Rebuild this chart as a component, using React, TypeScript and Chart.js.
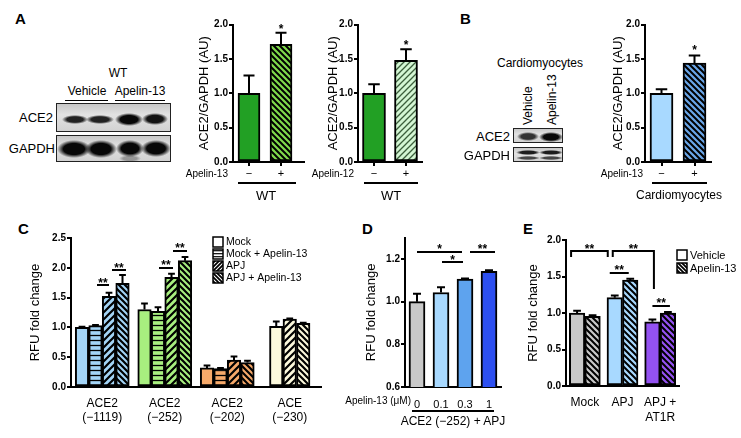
import React, { useEffect, useRef } from 'react';
import { Chart, registerables } from 'chart.js';

Chart.register(...registerables);

const FONT = '"Liberation Sans", Arial, Helvetica, sans-serif';

// ---------------- data ----------------
const aLabels = ['−', '+'];
const a1Values = [1.0, 1.71];
const a1Errors = [1.26, 1.88];
const a2Values = [1.0, 1.48];
const a2Errors = [1.13, 1.64];
const bValues = [1.0, 1.44];
const bErrors = [1.06, 1.55];

const cCategories = [['ACE2', '(−1119)'], ['ACE2', '(−252)'], ['ACE2', '(−202)'], ['ACE', '(−230)']];
const cSeries = ['Mock', 'Mock + Apelin-13', 'APJ', 'APJ + Apelin-13'];
const cMock = [1.0, 1.3, 0.32, 1.02];
const cMockErr = [1.01, 1.4, 0.36, 1.1];
const cMockApelin = [1.03, 1.27, 0.31, null];
const cMockApelinErr = [1.04, 1.34, 0.32, null];
const cApj = [1.52, 1.84, 0.45, 1.14];
const cApjErr = [1.58, 1.9, 0.51, 1.15];
const cApjApelin = [1.74, 2.12, 0.41, 1.07];
const cApjApelinErr = [1.88, 2.18, 0.44, 1.08];

const dLabels = ['0', '0.1', '0.3', '1'];
const dValues = [1.0, 1.043, 1.106, 1.142];
const dErrors = [1.037, 1.068, 1.109, 1.147];

const eCategories = [['Mock'], ['APJ'], ['APJ +', 'AT1R']];
const eSeries = ['Vehicle', 'Apelin-13'];
const eVehicle = [1.0, 1.21, 0.88];
const eVehicleErr = [1.03, 1.24, 0.91];
const eApelin = [0.955, 1.45, 1.0];
const eApelinErr = [0.97, 1.47, 1.015];

// ---------------- helpers ----------------
type Frame = { cx: number; cy: number; cw: number; ch: number; L: number; R: number; T: number; B: number; titleX: number };

function pattern(bg: string, kind: string, line = '#000', size = 6, lw = 2): any {
  if (kind === 'none') return bg;
  const c = document.createElement('canvas');
  c.width = size;
  c.height = size;
  const g = c.getContext('2d')!;
  g.fillStyle = bg;
  g.fillRect(0, 0, size, size);
  g.strokeStyle = line;
  g.lineWidth = lw;
  g.beginPath();
  if (kind === 'h') {
    g.moveTo(0, size / 2);
    g.lineTo(size, size / 2);
  } else if (kind === '/') {
    g.moveTo(-2, 2); g.lineTo(2, -2);
    g.moveTo(0, size); g.lineTo(size, 0);
    g.moveTo(size - 2, size + 2); g.lineTo(size + 2, size - 2);
  } else {
    g.moveTo(-2, size - 2); g.lineTo(2, size + 2);
    g.moveTo(0, 0); g.lineTo(size, size);
    g.moveTo(size - 2, -2); g.lineTo(size + 2, 2);
  }
  g.stroke();
  return g.createPattern(c, 'repeat');
}

function errPlugin(errs: (number | null)[][]) {
  return {
    id: 'errBars',
    afterDatasetsDraw(chart: any) {
      const ctx = chart.ctx;
      const y = chart.scales.y;
      errs.forEach((arr, i) => {
        const meta = chart.getDatasetMeta(i);
        const data = chart.data.datasets[i].data;
        meta.data.forEach((el: any, j: number) => {
          const e = arr[j];
          const v = data[j];
          if (e == null || v == null) return;
          const top = y.getPixelForValue(v);
          const ey = y.getPixelForValue(e);
          const w = el.width * 0.5;
          ctx.save();
          ctx.strokeStyle = '#000';
          ctx.lineWidth = 2;
          ctx.beginPath();
          ctx.moveTo(el.x, top);
          ctx.lineTo(el.x, ey);
          ctx.moveTo(el.x - w / 2, ey);
          ctx.lineTo(el.x + w / 2, ey);
          ctx.stroke();
          ctx.restore();
        });
      });
    },
  };
}

type Sig = { from: number[]; to: number[]; y: number; text: string; noLine?: boolean; legs?: number[] };

function sigPlugin(items: Sig[]) {
  return {
    id: 'sigMarks',
    afterDatasetsDraw(chart: any) {
      const ctx = chart.ctx;
      const y = chart.scales.y;
      const px = (r: number[]) => chart.getDatasetMeta(r[0]).data[r[1]].x + r[2];
      items.forEach((it) => {
        const x1 = px(it.from);
        const x2 = px(it.to);
        const yy = y.getPixelForValue(it.y);
        ctx.save();
        ctx.strokeStyle = '#000';
        ctx.lineWidth = 2;
        if (!it.noLine) {
          ctx.beginPath();
          if (it.legs) {
            ctx.moveTo(x1, y.getPixelForValue(it.legs[0]));
            ctx.lineTo(x1, yy);
            ctx.lineTo(x2, yy);
            ctx.lineTo(x2, y.getPixelForValue(it.legs[1]));
          } else {
            ctx.moveTo(x1, yy);
            ctx.lineTo(x2, yy);
          }
          ctx.stroke();
        }
        ctx.fillStyle = '#000';
        ctx.font = `bold 12px ${FONT}`;
        ctx.textAlign = 'center';
        ctx.textBaseline = 'alphabetic';
        ctx.fillText(it.text, (x1 + x2) / 2, yy + 1.5);
        ctx.restore();
      });
    },
  };
}

function legendPlugin(o: { x: number; y: number; gap: number; size: number; font: number; items: { label: string; fill: any }[] }) {
  return {
    id: 'boxLegend',
    afterDraw(chart: any) {
      const ctx = chart.ctx;
      ctx.save();
      ctx.font = `${o.font}px ${FONT}`;
      ctx.textBaseline = 'middle';
      ctx.textAlign = 'left';
      o.items.forEach((it, i) => {
        const yy = o.y + i * o.gap;
        ctx.fillStyle = it.fill;
        ctx.fillRect(o.x, yy - o.size / 2, o.size, o.size);
        ctx.strokeStyle = '#000';
        ctx.lineWidth = 1.5;
        ctx.strokeRect(o.x, yy - o.size / 2, o.size, o.size);
        ctx.fillStyle = '#000';
        ctx.fillText(it.label, o.x + o.size + 3, yy + 0.5);
      });
      ctx.restore();
    },
  };
}

function extendX(px: number) {
  return {
    id: 'extendX',
    afterDraw(chart: any) {
      if (!px) return;
      const ctx = chart.ctx;
      const a = chart.chartArea;
      const yb = chart.scales.x.top;
      ctx.save();
      ctx.strokeStyle = '#000';
      ctx.lineWidth = 2;
      ctx.beginPath();
      ctx.moveTo(a.right - 1, yb);
      ctx.lineTo(a.right + px, yb);
      ctx.stroke();
      ctx.restore();
    },
  };
}

function baseOptions(
  f: Frame,
  y: { min: number; max: number; step: number; title: string; keep?: number[] },
  x: { size: number; lh: number; pad: number; marks: boolean }
): any {
  return {
    responsive: false,
    animation: false,
    devicePixelRatio: 1,
    events: [],
    layout: { padding: { left: 0, top: f.T - f.cy, right: f.cx + f.cw - f.R, bottom: 0 } },
    plugins: { legend: { display: false }, tooltip: { enabled: false } },
    scales: {
      x: {
        type: 'category',
        offset: true,
        grid: { display: x.marks, drawOnChartArea: false, drawTicks: true, tickLength: 4, offset: false, color: '#000', lineWidth: 2 },
        border: { display: true, color: '#000', width: 2 },
        ticks: { color: '#000', font: { family: FONT, size: x.size, lineHeight: x.lh }, padding: x.pad, maxRotation: 0, autoSkip: false },
        afterFit: (s: any) => {
          s.height = f.cy + f.ch - f.B;
        },
      },
      y: {
        min: y.min,
        max: y.max,
        grid: { display: true, drawOnChartArea: false, drawTicks: true, tickLength: 4, color: '#000', lineWidth: 2 },
        border: { display: true, color: '#000', width: 2 },
        ticks: {
          stepSize: y.step,
          color: '#000',
          padding: 1,
          font: { family: FONT, size: 10, weight: 'bold' },
          callback: (v: any) => Number(v).toFixed(1),
        },
        afterBuildTicks: (s: any) => {
          if (y.keep) s.ticks = s.ticks.filter((t: any) => y.keep!.some((k) => Math.abs(k - t.value) < 1e-6));
        },
        title: {
          display: true,
          text: y.title,
          color: '#000',
          font: { family: FONT, size: 13 },
          padding: { top: f.titleX - f.cx - 7.8, bottom: 0 },
        },
        afterFit: (s: any) => {
          s.width = f.L - f.cx;
        },
      },
    },
  };
}

function ChartCanvas({ f, build }: { f: Frame; build: () => any }) {
  const ref = useRef<HTMLCanvasElement>(null);
  useEffect(() => {
    const chart = new Chart(ref.current!, build());
    return () => chart.destroy();
  }, []);
  return (
    <canvas
      ref={ref}
      width={f.cw}
      height={f.ch}
      style={{ position: 'absolute', left: f.cx, top: f.cy, width: f.cw, height: f.ch }}
    />
  );
}

function Txt({ x, y, s, size = 12, bold = false, align = 'center' }: any) {
  const tx = align === 'center' ? '-50%' : align === 'right' ? '-100%' : '0';
  return (
    <div
      style={{
        position: 'absolute',
        left: x,
        top: y,
        transform: `translate(${tx}, -50%)`,
        fontSize: size,
        fontWeight: bold ? 'bold' : 'normal',
        lineHeight: 1,
        whiteSpace: 'nowrap',
      }}
    >
      {s}
    </div>
  );
}

function VTxt({ x, y, s, size = 12 }: any) {
  return (
    <div
      style={{
        position: 'absolute',
        left: x,
        top: y,
        transformOrigin: '0 0',
        transform: 'rotate(-90deg) translateY(-50%)',
        fontSize: size,
        lineHeight: 1,
        whiteSpace: 'nowrap',
      }}
    >
      {s}
    </div>
  );
}

function HLine({ x1, x2, y, w = 1.2 }: any) {
  return <div style={{ position: 'absolute', left: x1, top: y - w / 2, width: x2 - x1, height: w, background: '#000' }} />;
}

function Blot({ x, y, w, h, bands }: { x: number; y: number; w: number; h: number; bands: number[][] }) {
  return (
    <div
      style={{
        position: 'absolute',
        left: x,
        top: y,
        width: w,
        height: h,
        border: '1.5px solid #222',
        boxSizing: 'border-box',
        background: 'linear-gradient(#c8c8c8, #e2e2e2 40%, #d2d2d2)',
        overflow: 'hidden',
      }}
    >
      {bands.map((b, i) => (
        <div
          key={i}
          style={{
            position: 'absolute',
            left: b[0] - x - b[2] / 2,
            top: b[1] - y - b[3] / 2,
            width: b[2],
            height: b[3],
            background: `radial-gradient(closest-side, rgba(8,8,8,${b[4]}) 0%, rgba(8,8,8,${b[4]}) 62%, rgba(8,8,8,0) 100%)`,
          }}
        />
      ))}
    </div>
  );
}

// ---------------- colours ----------------
const GREEN = '#22a024';
const GREEN2 = '#80da4c';
const MINT = '#d3f6d3';
const LBLUE = '#a8d9ff';
const BLUE2 = '#6aa6e8';
const C_COLORS = ['#a3d4f6', '#a8ef7f', '#f6a96a', '#fcf9dc'];
const D_COLORS = ['#c9c9c9', '#a8d9ff', '#5ea3ee', '#2c4ff0'];
const E_COLORS = ['#c9c9c9', '#a8d9ff', '#9452f2'];

// ---------------- frames ----------------
const fA1: Frame = { cx: 180, cy: 0, cw: 130, ch: 205, L: 233, R: 297, T: 24.5, B: 162, titleX: 204 };
const fA2: Frame = { cx: 310, cy: 0, cw: 122, ch: 205, L: 358, R: 422, T: 24.5, B: 162, titleX: 333 };
const fB: Frame = { cx: 595, cy: 0, cw: 130, ch: 205, L: 645, R: 711, T: 24.5, B: 162, titleX: 618 };
const fC: Frame = { cx: 20, cy: 228, cw: 310, ch: 200, L: 71, R: 321, T: 238, B: 387, titleX: 35 };
const fD: Frame = { cx: 350, cy: 228, cw: 160, ch: 200, L: 405, R: 501, T: 237.7, B: 387, titleX: 371 };
const fE: Frame = { cx: 515, cy: 228, cw: 222, ch: 200, L: 566, R: 679, T: 240, B: 386, titleX: 533 };

const aX = { size: 11, lh: 1.2, pad: 1, marks: true };

function buildA1() {
  const o = baseOptions(fA1, { min: 0, max: 2, step: 0.5, title: 'ACE2/GAPDH (AU)' }, aX);
  return {
    type: 'bar',
    data: {
      labels: aLabels,
      datasets: [{ data: a1Values, backgroundColor: [GREEN, pattern(GREEN2, '\\', '#000', 6, 2)], borderColor: '#000', borderWidth: 2, borderSkipped: false, barThickness: 22 }],
    },
    options: o,
    plugins: [errPlugin([a1Errors]), sigPlugin([{ from: [0, 1, 0], to: [0, 1, 0], y: 1.9, text: '*', noLine: true }]), extendX(8)],
  };
}

function buildA2() {
  const o = baseOptions(fA2, { min: 0, max: 2, step: 0.5, title: 'ACE2/GAPDH (AU)' }, aX);
  return {
    type: 'bar',
    data: {
      labels: aLabels,
      datasets: [{ data: a2Values, backgroundColor: [GREEN, pattern(MINT, '/', '#3b5e3b', 6, 1.3)], borderColor: '#000', borderWidth: 2, borderSkipped: false, barThickness: 23 }],
    },
    options: o,
    plugins: [errPlugin([a2Errors]), sigPlugin([{ from: [0, 1, 0], to: [0, 1, 0], y: 1.67, text: '*', noLine: true }]), extendX(0)],
  };
}

function buildB() {
  const o = baseOptions(fB, { min: 0, max: 2, step: 0.5, title: 'ACE2/GAPDH (AU)' }, aX);
  return {
    type: 'bar',
    data: {
      labels: aLabels,
      datasets: [{ data: bValues, backgroundColor: [LBLUE, pattern(BLUE2, '\\', '#000', 6, 2)], borderColor: '#000', borderWidth: 2, borderSkipped: false, barThickness: 23 }],
    },
    options: o,
    plugins: [errPlugin([bErrors]), sigPlugin([{ from: [0, 1, 0], to: [0, 1, 0], y: 1.59, text: '*', noLine: true }]), extendX(0)],
  };
}

function buildC() {
  const o = baseOptions(fC, { min: 0, max: 2.5, step: 0.5, title: 'RFU fold change' }, { size: 12, lh: 1.1, pad: 6.5, marks: false });
  const kinds = [['none', 0, 0], ['h', 5, 1.3], ['/', 7, 2.2], ['\\', 6, 2.2]] as any[];
  const series = [cMock, cMockApelin, cApj, cApjApelin];
  const datasets = series.map((vals, i) => ({
    label: cSeries[i],
    data: vals,
    backgroundColor: C_COLORS.map((col) => pattern(col, kinds[i][0], '#000', kinds[i][1], kinds[i][2])),
    borderColor: '#000',
    borderWidth: 2,
    borderSkipped: false,
    barThickness: 13.5,
    skipNull: true,
  }));
  return {
    type: 'bar',
    data: { labels: cCategories, datasets },
    options: o,
    plugins: [
      errPlugin([cMockErr, cMockApelinErr, cApjErr, cApjApelinErr]),
      sigPlugin([
        { from: [2, 0, -12], to: [2, 0, 0], y: 1.711, text: '**' },
        { from: [3, 0, -10.5], to: [3, 0, 3.5], y: 1.963, text: '**' },
        { from: [2, 1, -12.5], to: [2, 1, 1.5], y: 1.997, text: '**' },
        { from: [3, 1, -12], to: [3, 1, 2], y: 2.282, text: '**' },
      ]),
      legendPlugin({
        x: 193,
        y: 14,
        gap: 12,
        size: 10,
        font: 10.5,
        items: cSeries.map((s, i) => ({ label: s, fill: pattern('#fff', kinds[i][0], '#000', i === 1 ? 3.4 : 4, i === 1 ? 1.2 : 1.8) })),
      }),
    ],
  };
}

function buildD() {
  const o = baseOptions(fD, { min: 0.6, max: 1.3, step: 0.2, title: 'RFU fold change', keep: [0.6, 0.8, 1.0, 1.2] }, { size: 11, lh: 1.2, pad: 7.4, marks: false });
  return {
    type: 'bar',
    data: {
      labels: dLabels,
      datasets: [{ data: dValues, backgroundColor: D_COLORS, borderColor: '#000', borderWidth: 2, borderSkipped: false, barThickness: 16 }],
    },
    options: o,
    plugins: [
      errPlugin([dErrors]),
      sigPlugin([
        { from: [0, 0, 0], to: [0, 2, -3], y: 1.233, text: '*' },
        { from: [0, 1, 1], to: [0, 2, -2], y: 1.186, text: '*' },
        { from: [0, 2, 5], to: [0, 3, 6], y: 1.233, text: '**' },
      ]),
    ],
  };
}

function buildE() {
  const o = baseOptions(fE, { min: 0, max: 2, step: 0.5, title: 'RFU fold change' }, { size: 12, lh: 1.25, pad: 5.5, marks: false });
  const vehFill = E_COLORS;
  const apFill = E_COLORS.map((c) => pattern(c, '\\', '#000', 6, 2));
  return {
    type: 'bar',
    data: {
      labels: eCategories,
      datasets: [
        { label: eSeries[0], data: eVehicle, backgroundColor: vehFill, borderColor: '#000', borderWidth: 2, borderSkipped: false, barThickness: 15.5 },
        { label: eSeries[1], data: eApelin, backgroundColor: apFill, borderColor: '#000', borderWidth: 2, borderSkipped: false, barThickness: 15.5 },
      ],
    },
    options: o,
    plugins: [
      errPlugin([eVehicleErr, eApelinErr]),
      sigPlugin([
        { from: [0, 0, -6], to: [0, 1, -7], y: 1.849, text: '**', legs: [1.767, 1.767] },
        { from: [0, 1, -2], to: [0, 2, 1.5], y: 1.849, text: '**', legs: [1.767, 1.329] },
        { from: [0, 1, -5], to: [1, 1, -1.5], y: 1.548, text: '**' },
        { from: [0, 2, 0], to: [1, 2, 2], y: 1.096, text: '**' },
      ]),
      legendPlugin({
        x: 162,
        y: 27,
        gap: 13,
        size: 10,
        font: 11,
        items: eSeries.map((s, i) => ({ label: s, fill: i === 0 ? '#fff' : pattern('#fff', '\\', '#000', 4, 1.8) })),
      }),
    ],
  };
}

export default function App() {
  return (
    <div
      style={{
        position: 'absolute',
        left: 0,
        top: 0,
        width: 741,
        height: 438,
        background: '#fff',
        overflow: 'hidden',
        fontFamily: FONT,
        color: '#000',
      }}
    >
      {/* Panel letters */}
      <Txt x={15} y={18} s="A" size={15} bold align="left" />
      <Txt x={460} y={18} s="B" size={15} bold align="left" />
      <Txt x={18} y={228} s="C" size={15} bold align="left" />
      <Txt x={362} y={228} s="D" size={15} bold align="left" />
      <Txt x={523} y={228} s="E" size={15} bold align="left" />

      {/* Panel A blot */}
      <Txt x={118} y={73} s="WT" size={12} />
      <Txt x={87} y={91} s="Vehicle" size={12} />
      <Txt x={140} y={91} s="Apelin-13" size={12} />
      <HLine x1={65} x2={108} y={100.5} />
      <HLine x1={115} x2={165} y={100.5} />
      <Txt x={53} y={117} s="ACE2" size={13} align="right" />
      <Txt x={55} y={148} s="GAPDH" size={13} align="right" />
      <Blot
        x={56}
        y={103}
        w={115}
        h={29}
        bands={[
          [74, 118.5, 26, 9, 0.88],
          [98.5, 118.5, 28, 9, 0.88],
          [127.5, 118, 28, 13, 1],
          [154, 118, 26, 12, 0.95],
        ]}
      />
      <Blot
        x={56}
        y={135}
        w={115}
        h={27}
        bands={[
          [72.5, 147.5, 34, 18, 1],
          [100, 147.5, 32, 18, 1],
          [128.5, 147.5, 28, 17, 1],
          [154.5, 147.5, 30, 17, 1],
          [129, 157, 22, 7, 0.3],
        ]}
      />

      {/* Panel A charts */}
      <ChartCanvas f={fA1} build={buildA1} />
      <Txt x={228} y={174} s="Apelin-13" size={10} align="right" />
      <HLine x1={238} x2={296} y={183} />
      <Txt x={266} y={195} s="WT" size={13} />

      <ChartCanvas f={fA2} build={buildA2} />
      <Txt x={354} y={174} s="Apelin-12" size={10} align="right" />
      <HLine x1={364} x2={418} y={183} />
      <Txt x={391} y={195} s="WT" size={13} />

      {/* Panel B blot */}
      <Txt x={540} y={63} s="Cardiomyocytes" size={12} />
      <VTxt x={528} y={125} s="Vehicle" size={12} />
      <VTxt x={552} y={125} s="Apelin-13" size={12} />
      <Txt x={510} y={136} s="ACE2" size={13} align="right" />
      <Txt x={510} y={155} s="GAPDH" size={13} align="right" />
      <Blot
        x={513}
        y={128}
        w={50}
        h={15}
        bands={[
          [527, 135.5, 22, 9, 0.8],
          [550, 135.5, 24, 10, 1],
        ]}
      />
      <Blot
        x={513}
        y={147}
        w={50}
        h={15}
        bands={[
          [527, 151.5, 24, 5, 0.9],
          [550, 151.5, 24, 5, 0.9],
          [527, 157, 24, 4, 0.7],
          [550, 157, 24, 4, 0.7],
        ]}
      />

      {/* Panel B chart */}
      <ChartCanvas f={fB} build={buildB} />
      <Txt x={643} y={174} s="Apelin-13" size={10} align="right" />
      <HLine x1={652} x2={707} y={183} />
      <Txt x={679} y={195} s="Cardiomyocytes" size={12} />

      {/* Panel C */}
      <ChartCanvas f={fC} build={buildC} />

      {/* Panel D */}
      <ChartCanvas f={fD} build={buildD} />
      <Txt x={411} y={401} s="Apelin-13 (μM)" size={10} align="right" />
      <HLine x1={412} x2={494} y={411} />
      <Txt x={453} y={421} s="ACE2 (−252) + APJ" size={12} />

      {/* Panel E */}
      <ChartCanvas f={fE} build={buildE} />
    </div>
  );
}
